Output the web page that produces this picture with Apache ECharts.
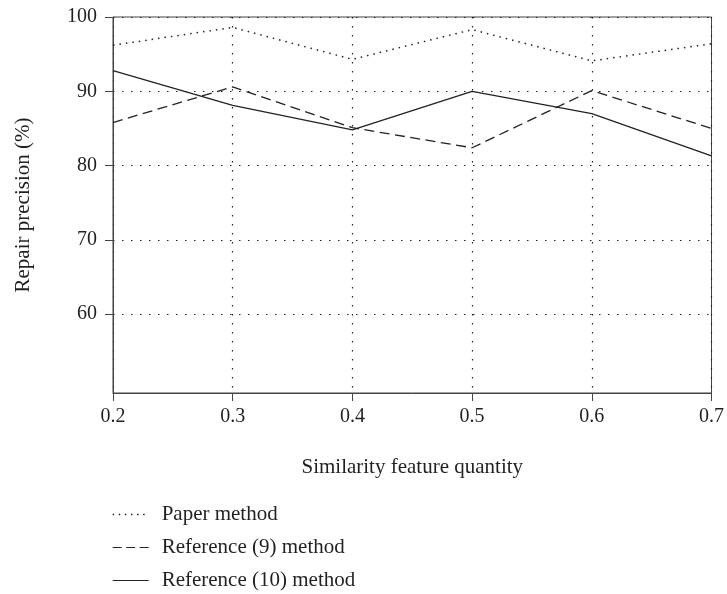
<!DOCTYPE html>
<html><head><meta charset="utf-8">
<script src="https://cdn.jsdelivr.net/npm/echarts@6/dist/echarts.min.js"></script>
<style>html,body{margin:0;padding:0;background:#fff}#c{width:727px;height:594px}</style>
</head><body><div id="c"></div>
<script>
var xValues = [0.2, 0.3, 0.4, 0.5, 0.6, 0.7];
var paperMethod = [96.2, 98.6, 94.3, 98.3, 94.1, 96.4];
var ref9Method = [85.8, 90.6, 85.1, 82.4, 90.1, 85.0];
var ref10Method = [92.8, 88.1, 84.8, 90.0, 87.0, 81.3];
var yTicks = [60, 70, 80, 90, 100];
var seriesNames = ['Paper method', 'Reference (9) method', 'Reference (10) method'];

var font = 'Liberation Serif';
var ink = '#231f20';
function pairs(v){ return xValues.map(function(x,i){ return [x, v[i]]; }); }

var chart = echarts.init(document.getElementById('c'));
chart.setOption({
  animation: false,
  textStyle: { fontFamily: font, color: ink },
  grid: { left: 113, top: 17, right: 14, bottom: 201, show: true, borderColor: '#444', borderWidth: 1, backgroundColor: 'transparent' },
  xAxis: {
    type: 'value', min: 0.2, max: 0.7, interval: 0.1,
    name: 'Similarity feature quantity', nameLocation: 'middle', nameGap: 64,
    nameTextStyle: { fontFamily: font, fontSize: 21, color: ink },
    axisLine: { lineStyle: { color: '#444', width: 1 } },
    axisTick: { show: true, inside: false, length: 8, lineStyle: { color: '#444' } },
    axisLabel: { fontFamily: font, fontSize: 20, color: ink, margin: 14, formatter: function(v){ return v.toFixed(1); } },
    splitLine: { show: true, lineStyle: { color: '#222', type: [1.5, 7.5], width: 1.2 } }
  },
  yAxis: {
    type: 'value', min: 49.4, max: 100,
    name: 'Repair precision (%)', nameLocation: 'middle', nameGap: 79, nameRotate: 90,
    nameTextStyle: { fontFamily: font, fontSize: 21, color: ink },
    axisLine: { show: true, lineStyle: { color: '#444', width: 1 } },
    axisTick: { show: true, length: 8, customValues: yTicks, lineStyle: { color: '#444' } },
    axisLabel: { fontFamily: font, fontSize: 20, color: ink, margin: 16, customValues: yTicks },
    splitLine: { show: true, lineStyle: { color: '#222', type: [1.5, 7.5], width: 1.2 } }
  },
  legend: {
    orient: 'vertical', left: 112, top: 504, height: 130, padding: 0,
    itemWidth: 36, itemHeight: 12, itemGap: 12,
    itemStyle: { color: 'transparent', borderColor: 'transparent', borderWidth: 0, opacity: 0 },
    textStyle: { fontFamily: font, fontSize: 21, color: ink, padding: [0, 0, 0, 8] },
    data: [
      { name: seriesNames[0], lineStyle: { color: '#222', width: 1.3, type: [1.5, 4.6] } },
      { name: seriesNames[1], lineStyle: { color: '#222', width: 1.2, type: [9, 4.5] } },
      { name: seriesNames[2], lineStyle: { color: '#222', width: 1.2, type: 'solid' } }
    ]
  },
  series: [
    { name: seriesNames[0], type: 'line', data: pairs(paperMethod), symbol: 'none',
      lineStyle: { color: '#222', width: 1.5, type: [1.5, 5] }, itemStyle: { color: '#222' } },
    { name: seriesNames[1], type: 'line', data: pairs(ref9Method), symbol: 'none',
      lineStyle: { color: '#222', width: 1.3, type: [10, 5.5] }, itemStyle: { color: '#222' } },
    { name: seriesNames[2], type: 'line', data: pairs(ref10Method), symbol: 'none',
      lineStyle: { color: '#222', width: 1.3, type: 'solid' }, itemStyle: { color: '#222' } }
  ]
});
</script></body></html>
